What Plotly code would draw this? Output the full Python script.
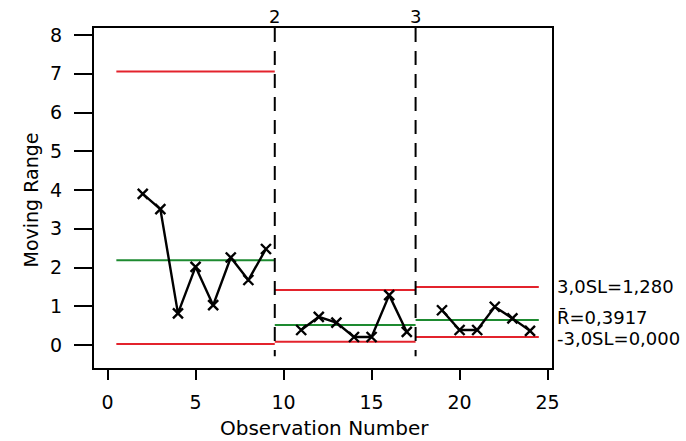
import plotly.graph_objects as go

# ---- data ----
obs_p1 = [2, 3, 4, 5, 6, 7, 8, 9]
mr_p1 = [3.90, 3.51, 0.82, 2.02, 1.03, 2.26, 1.68, 2.48]
obs_p2 = [11, 12, 13, 14, 15, 16, 17]
mr_p2 = [0.39, 0.73, 0.58, 0.21, 0.21, 1.29, 0.34]
obs_p3 = [19, 20, 21, 22, 23, 24]
mr_p3 = [0.90, 0.39, 0.39, 0.99, 0.69, 0.37]

phase_start = [0.5, 9.5, 17.5]
phase_end = [9.5, 17.5, 24.5]
ucl = [7.06, 1.42, 1.50]
center = [2.19, 0.52, 0.65]
lcl = [0.03, 0.09, 0.21]

phase_bounds = [9.5, 17.5]
phase_names = ["2", "3"]

x_ticks = [0, 5, 10, 15, 20, 25]
y_ticks = [0, 1, 2, 3, 4, 5, 6, 7, 8]
y_range = [-0.59, 8.18]
x_range = [-0.77, 25.25]

right_labels = ["3,0SL=1,280", "R\u0304=0,3917", "-3,0SL=0,000"]

RED = "#e3232c"
GREEN = "#1d8a30"
FONT = "DejaVu Sans"

fig = go.Figure()

# control limit lines
for i in range(3):
    xs = [phase_start[i], phase_end[i]]
    fig.add_trace(go.Scatter(x=xs, y=[ucl[i]] * 2, mode="lines",
                             line=dict(color=RED, width=2), showlegend=False))
    fig.add_trace(go.Scatter(x=xs, y=[center[i]] * 2, mode="lines",
                             line=dict(color=GREEN, width=2), showlegend=False))
    fig.add_trace(go.Scatter(x=xs, y=[lcl[i]] * 2, mode="lines",
                             line=dict(color=RED, width=2), showlegend=False))

# phase boundaries
for b in phase_bounds:
    fig.add_trace(go.Scatter(x=[b, b], y=[y_range[1], -0.29], mode="lines",
                             line=dict(color="black", width=2, dash="14px,9px"),
                             showlegend=False))

# moving range data
for xs, ys in [(obs_p1, mr_p1), (obs_p2, mr_p2), (obs_p3, mr_p3)]:
    fig.add_trace(go.Scatter(x=xs, y=ys, mode="lines+markers",
                             line=dict(color="black", width=2.4),
                             marker=dict(symbol="x-thin", size=10,
                                         line=dict(color="black", width=2.4)),
                             showlegend=False))

annotations = []
for b, name in zip(phase_bounds, phase_names):
    annotations.append(dict(x=b, y=1.0, xref="x", yref="paper", text=name,
                            showarrow=False, yanchor="bottom", yshift=-1,
                            font=dict(family=FONT, size=18, color="black")))

label_y = [ucl[2], center[2], lcl[2]]
label_shift = [0, 2, -2]
for txt, yv, ys in zip(right_labels, label_y, label_shift):
    annotations.append(dict(x=1.0, y=yv, xref="paper", yref="y", text=txt,
                            showarrow=False, xanchor="left", xshift=3, yshift=ys,
                            font=dict(family=FONT, size=18, color="black")))

annotations.append(dict(x=0.504, y=-0.176, xref="paper", yref="paper",
                        text="Observation Number", showarrow=False,
                        yanchor="middle",
                        font=dict(family=FONT, size=20, color="black")))
annotations.append(dict(x=-0.165, y=0.494, xref="paper", yref="paper",
                        text="Moving Range", showarrow=False, textangle=-90,
                        font=dict(family=FONT, size=19, color="black")))

fig.update_layout(
    width=686, height=441,
    margin=dict(l=94, r=134, t=28, b=73),
    paper_bgcolor="white", plot_bgcolor="white",
    annotations=annotations,
    xaxis=dict(range=x_range, tickvals=x_ticks, ticks="outside", ticklen=10,
               tickwidth=2, tickcolor="black", showline=True, linecolor="black",
               linewidth=2, mirror=True, showgrid=False, zeroline=False,
               ticklabelstandoff=6,
               tickfont=dict(family=FONT, size=19, color="black")),
    yaxis=dict(range=y_range, tickvals=y_ticks, ticks="outside", ticklen=18,
               tickwidth=2, tickcolor="black", showline=True, linecolor="black",
               linewidth=2, mirror=True, showgrid=False, zeroline=False,
               ticklabelstandoff=8,
               tickfont=dict(family=FONT, size=19, color="black")),
)

fig.write_html("out.html")
